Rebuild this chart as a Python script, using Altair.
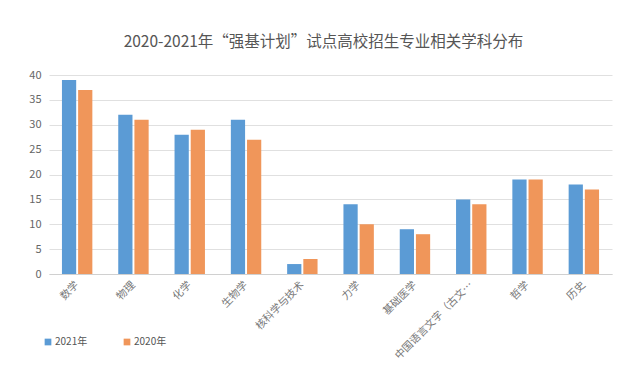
import altair as alt
import pandas as pd

categories = ["数学", "物理", "化学", "生物学", "核科学与技术", "力学", "基础医学",
              "中国语言文字（古文…", "哲学", "历史"]
values_2021 = [39, 32, 28, 31, 2, 14, 9, 15, 19, 18]
values_2020 = [37, 31, 29, 27, 3, 10, 8, 14, 19, 17]
series = ["2021年", "2020年"]
colors = ["#5B9BD5", "#F0965A"]
y_ticks = [0, 5, 10, 15, 20, 25, 30, 35, 40]

rows = []
for c, a, b in zip(categories, values_2021, values_2020):
    rows.append({"cat": c, "series": series[0], "v": a})
    rows.append({"cat": c, "series": series[1], "v": b})
df = pd.DataFrame(rows)

font = "Noto Sans CJK SC"

chart = alt.Chart(df).mark_bar().encode(
    x=alt.X("cat:N", sort=categories, title=None,
            scale=alt.Scale(paddingInner=0.46, paddingOuter=0.23),
            axis=alt.Axis(labelAngle=-45, labelAlign="right", labelBaseline="middle",
                          labelFont=font, labelFontSize=10.5, labelColor="#777777",
                          labelPadding=9, ticks=False, domainColor="#d0d0d0",
                          labelLimit=200)),
    xOffset=alt.XOffset("series:N", sort=series, scale=alt.Scale(paddingInner=0.12)),
    y=alt.Y("v:Q", title=None,
            scale=alt.Scale(domain=[0, 40]),
            axis=alt.Axis(values=y_ticks, ticks=False, domain=False, gridColor="#e0e0e0",
                          labelFont=font, labelFontSize=11, labelColor="#666666",
                          labelPadding=8)),
    color=alt.Color("series:N", sort=series,
                    scale=alt.Scale(domain=series, range=colors),
                    legend=alt.Legend(title=None, orient="none", direction="horizontal",
                                      legendX=-6, legendY=262, symbolType="square",
                                      symbolSize=45, labelFont=font, labelFontSize=10,
                                      labelColor="#555555", columnPadding=34,
                                      labelOffset=2, symbolStrokeWidth=0)),
).properties(
    width=563, height=199,
    title=alt.TitleParams("2020-2021年“强基计划”试点高校招生专业相关学科分布",
                          font=font, fontSize=15.5, fontWeight="normal",
                          color="#555555", offset=19, anchor="middle", dx=-7),
    padding={"left": 20, "top": 26, "right": 10, "bottom": 5},
).configure_view(stroke=None)

chart.save("out.html", embed_options={"renderer": "svg", "actions": False})
